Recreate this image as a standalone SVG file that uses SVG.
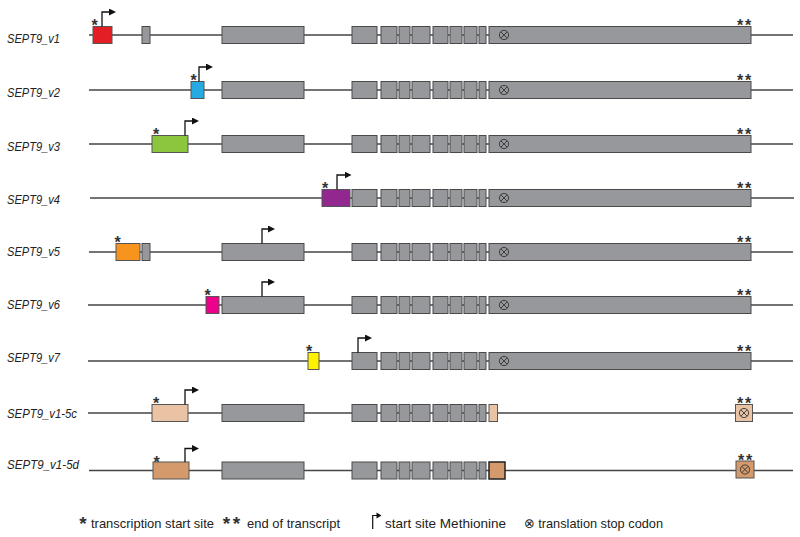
<svg xmlns="http://www.w3.org/2000/svg" xmlns:xlink="http://www.w3.org/1999/xlink" width="800" height="537" viewBox="0 0 800 537">
<style>
.ln{stroke:#444;stroke-width:1.6;fill:none}
.ex{fill:#97989c;stroke:#4a4a4a;stroke-width:1}
.cb{stroke:#555;stroke-width:1}
.st{font-family:"Liberation Sans",Arial,sans-serif;font-size:16px;font-weight:bold;fill:#333;text-anchor:middle}
.lab{font-family:"Liberation Sans",Arial,sans-serif;font-size:13.5px;font-style:italic;fill:#222}
.arr{stroke:#111;stroke-width:1.3;fill:none;marker-end:url(#ah)}
.lg{font-family:"Liberation Sans","DejaVu Sans",Arial,sans-serif;font-size:13.5px;fill:#222}
</style>
<defs>
<marker id="ah" viewBox="0 0 7 7" refX="1" refY="3.5" markerWidth="7" markerHeight="7" markerUnits="userSpaceOnUse" orient="auto">
<path d="M0,0 L7,3.5 L0,7 z" fill="#111"/>
</marker>
<g id="ox">
<circle cx="0" cy="0" r="4.6" fill="none" stroke="#333" stroke-width="0.9"/>
<path d="M-3.2,-3.2 L3.2,3.2 M-3.2,3.2 L3.2,-3.2" stroke="#333" stroke-width="0.9"/>
</g>
<g id="series">
<rect class="ex" x="352" y="-8.5" width="25" height="17"/>
<rect class="ex" x="381" y="-8.5" width="16" height="17"/>
<rect class="ex" x="399" y="-8.5" width="11" height="17"/>
<rect class="ex" x="412" y="-8.5" width="18" height="17"/>
<rect class="ex" x="433" y="-8.5" width="15" height="17"/>
<rect class="ex" x="450" y="-8.5" width="12" height="17"/>
<rect class="ex" x="464" y="-8.5" width="13" height="17"/>
<rect class="ex" x="479" y="-8.5" width="7" height="17"/>
</g>
<g id="last">
<rect class="ex" x="489" y="-8.5" width="262" height="17"/>
<use xlink:href="#ox" x="504" y="0"/>
<text class="st" x="740 748" y="-4">**</text>
</g>
</defs>

<g id="connectors">
<line class="ln" x1="89" y1="35" x2="793" y2="35"/>
<line class="ln" x1="89" y1="90" x2="793" y2="90"/>
<line class="ln" x1="89" y1="144" x2="793" y2="144"/>
<line class="ln" x1="90" y1="198" x2="794" y2="198"/>
<line class="ln" x1="89" y1="252" x2="793" y2="252"/>
<line class="ln" x1="88" y1="305" x2="793" y2="305"/>
<line class="ln" x1="88" y1="361" x2="793" y2="361"/>
<line class="ln" x1="88" y1="413" x2="793" y2="413"/>
<line class="ln" x1="89" y1="470.5" x2="793" y2="470.5"/>
</g>

<g id="labels">
<text class="lab" x="7" y="42.7" textLength="53" lengthAdjust="spacingAndGlyphs">SEPT9_v1</text>
<text class="lab" x="7" y="96.7" textLength="53" lengthAdjust="spacingAndGlyphs">SEPT9_v2</text>
<text class="lab" x="7" y="150.7" textLength="53" lengthAdjust="spacingAndGlyphs">SEPT9_v3</text>
<text class="lab" x="7" y="204" textLength="53" lengthAdjust="spacingAndGlyphs">SEPT9_v4</text>
<text class="lab" x="7" y="256" textLength="53" lengthAdjust="spacingAndGlyphs">SEPT9_v5</text>
<text class="lab" x="7" y="309.3" textLength="53" lengthAdjust="spacingAndGlyphs">SEPT9_v6</text>
<text class="lab" x="7" y="362" textLength="53" lengthAdjust="spacingAndGlyphs">SEPT9_v7</text>
<text class="lab" x="7" y="417.7" textLength="70" lengthAdjust="spacingAndGlyphs">SEPT9_v1-5c</text>
<text class="lab" x="7" y="468.7" textLength="72" lengthAdjust="spacingAndGlyphs">SEPT9_v1-5d</text>
</g>

<g id="v1" transform="translate(0,35)">
<rect class="cb" x="93" y="-8.5" width="19" height="17" fill="#e31e24"/>
<rect class="ex" x="142" y="-8.5" width="8" height="17"/>
<rect class="ex" x="222" y="-8.5" width="82" height="17"/>
<use xlink:href="#series"/>
<use xlink:href="#last"/>
<text class="st" x="94.5" y="-4">*</text>
<path class="arr" d="M102,-8.5 V-23 H110"/>
</g>

<g id="v2" transform="translate(0,90)">
<rect class="cb" x="191" y="-8.5" width="13" height="17" fill="#27aae1"/>
<rect class="ex" x="222" y="-8.5" width="82" height="17"/>
<use xlink:href="#series"/>
<use xlink:href="#last"/>
<text class="st" x="193.5" y="-4">*</text>
<path class="arr" d="M199,-8.5 V-23 H207"/>
</g>

<g id="v3" transform="translate(0,144)">
<rect class="cb" x="152" y="-8.5" width="36" height="17" fill="#8cc63e"/>
<rect class="ex" x="222" y="-8.5" width="82" height="17"/>
<use xlink:href="#series"/>
<use xlink:href="#last"/>
<text class="st" x="156" y="-4">*</text>
<path class="arr" d="M185,-8.5 V-23 H193"/>
</g>

<g id="v4" transform="translate(0,198)">
<rect class="cb" x="322" y="-8.5" width="28" height="17" fill="#92278f"/>
<use xlink:href="#series"/>
<use xlink:href="#last"/>
<text class="st" x="325" y="-4">*</text>
<path class="arr" d="M337,-8.5 V-23 H345.5"/>
</g>

<g id="v5" transform="translate(0,252)">
<rect class="cb" x="116" y="-8.5" width="24" height="17" fill="#f7941d"/>
<rect class="ex" x="142" y="-8.5" width="8" height="17"/>
<rect class="ex" x="222" y="-8.5" width="82" height="17"/>
<use xlink:href="#series"/>
<use xlink:href="#last"/>
<text class="st" x="117.5" y="-4">*</text>
<path class="arr" d="M262,-8.5 V-23 H269"/>
</g>

<g id="v6" transform="translate(0,305)">
<rect class="cb" x="206" y="-8.5" width="13" height="17" fill="#ec008c"/>
<rect class="ex" x="222" y="-8.5" width="82" height="17"/>
<use xlink:href="#series"/>
<use xlink:href="#last"/>
<text class="st" x="207.5" y="-4">*</text>
<path class="arr" d="M262,-8.5 V-23 H269"/>
</g>

<g id="v7" transform="translate(0,361)">
<rect class="cb" x="308" y="-8.5" width="11" height="17" fill="#fff200"/>
<use xlink:href="#series"/>
<use xlink:href="#last"/>
<text class="st" x="309" y="-4">*</text>
<path class="arr" d="M358,-8.5 V-23 H366"/>
</g>

<g id="v1-5c" transform="translate(0,413)">
<rect class="cb" x="152" y="-8.5" width="36" height="17" fill="#e9c3a3"/>
<rect class="ex" x="222" y="-8.5" width="82" height="17"/>
<use xlink:href="#series"/>
<rect class="cb" x="489" y="-8.5" width="8.5" height="17" fill="#e9c3a3"/>
<rect class="cb" x="735.5" y="-8.5" width="17" height="17" fill="#e9c3a3"/>
<use xlink:href="#ox" x="744" y="0"/>
<text class="st" x="740 748" y="-4">**</text>
<text class="st" x="156" y="-4">*</text>
<path class="arr" d="M185,-8.5 V-23 H193"/>
</g>

<g id="v1-5d" transform="translate(0,470.5)">
<rect class="cb" x="153" y="-8.5" width="36" height="17" fill="#d59a6b"/>
<rect class="ex" x="222" y="-8.5" width="82" height="17"/>
<use xlink:href="#series"/>
<rect x="489" y="-8.5" width="16" height="17" fill="#d59a6b" stroke="#222" stroke-width="1.5"/>
<rect class="cb" x="736" y="-9.5" width="18" height="17" fill="#d59a6b"/>
<use xlink:href="#ox" x="745" y="-1"/>
<text class="st" x="741 749" y="-4.5">**</text>
<text class="st" x="156.5" y="-3">*</text>
<path class="arr" d="M185,-8.5 V-22 H193"/>
</g>

<g id="legend">
<text class="st" x="83" y="530" style="font-size:19px">*</text>
<text class="lg" x="91" y="528" textLength="123" lengthAdjust="spacingAndGlyphs">transcription start site</text>
<text class="st" x="226.5 236.5" y="530" style="font-size:19px">**</text>
<text class="lg" x="247" y="528" textLength="93" lengthAdjust="spacingAndGlyphs">end of transcript</text>
<path d="M372.7,529 V515.5 H377" stroke="#111" stroke-width="1.2" fill="none"/>
<path d="M376.5,512.5 L381.5,515.5 L376.5,518.5 z" fill="#111"/>
<text class="lg" x="385" y="528" textLength="121" lengthAdjust="spacingAndGlyphs">start site Methionine</text>
<text class="lg" x="524" y="528" textLength="139" lengthAdjust="spacingAndGlyphs">⊗ translation stop codon</text>
</g>
</svg>
